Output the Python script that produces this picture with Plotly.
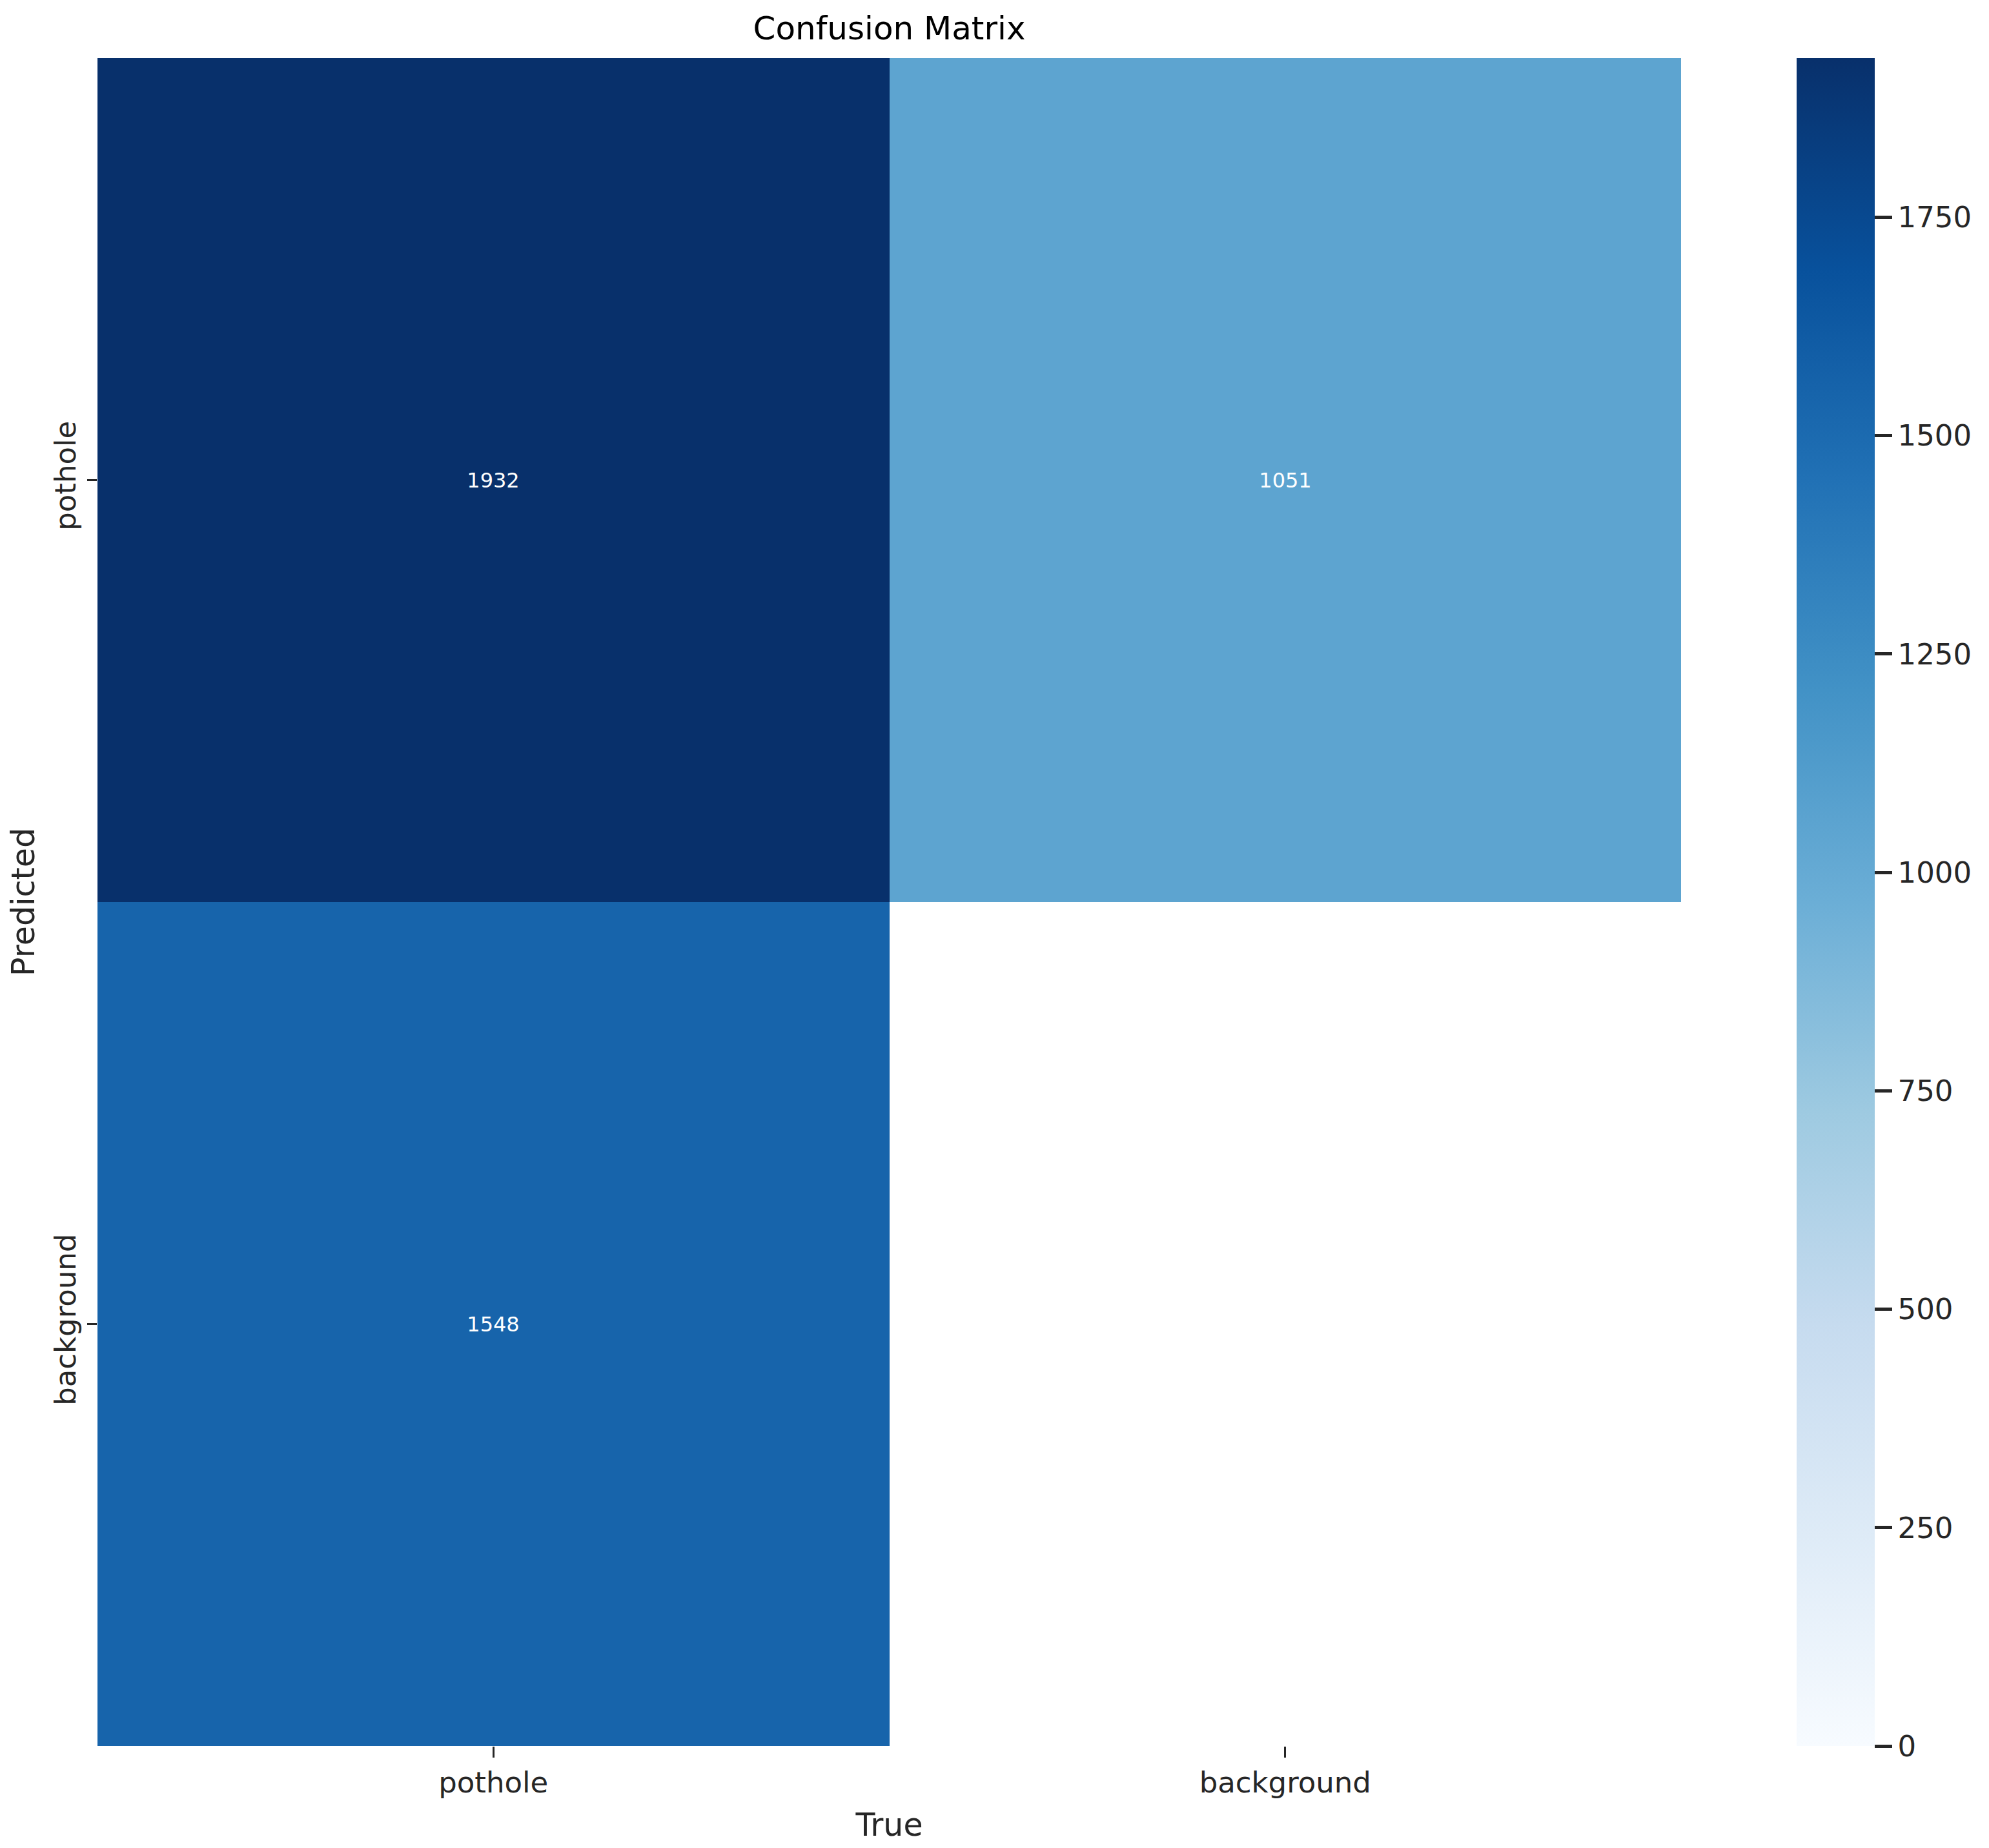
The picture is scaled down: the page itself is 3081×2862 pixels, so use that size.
import plotly.graph_objects as go

# Data
true_labels = ["pothole", "background"]
pred_labels = ["pothole", "background"]
counts = [
    [1932, 1051],
    [1548, None],
]
cell_text = [
    ["1932", "1051"],
    ["1548", ""],
]
cbar_ticks = [0, 250, 500, 750, 1000, 1250, 1500, 1750]

z_max = max(v for row in counts for v in row if v is not None)

# page body has an 8px margin in the browser
OFF = 8
W, H = 3081 - 2 * OFF, 2862 - OFF
ml, mr, mt, mb = 151 - OFF, 477 - OFF, 90 - OFF, 158
plot_w = W - ml - mr

FONT = "DejaVu Sans"
TXT = "#262626"

fig = go.Figure(
    go.Heatmap(
        z=counts,
        x=true_labels,
        y=pred_labels,
        text=cell_text,
        texttemplate="%{text}",
        textfont=dict(family=FONT, size=32, color="white"),
        colorscale="Blues",
        zauto=False,
        zmin=0,
        zmax=z_max,
        xgap=0,
        ygap=0,
        hoverongaps=False,
        colorbar=dict(
            thickness=121,
            thicknessmode="pixels",
            len=1,
            lenmode="fraction",
            x=(2783 - OFF - ml) / plot_w,
            xanchor="left",
            y=0.5,
            yanchor="middle",
            xpad=0,
            ypad=0,
            outlinewidth=0,
            ticks="outside",
            ticklen=27,
            tickwidth=5,
            tickcolor=TXT,
            tickvals=cbar_ticks,
            tickfont=dict(family=FONT, size=45, color=TXT),
        ),
    )
)

fig.update_layout(
    width=W,
    height=H,
    autosize=False,
    margin=dict(l=ml, r=mr, t=mt, b=mb, pad=0),
    paper_bgcolor="white",
    plot_bgcolor="white",
    font=dict(family=FONT, color=TXT),
    title=dict(
        text="Confusion Matrix",
        x=(ml + plot_w / 2) / W,
        xanchor="center",
        y=1 - (43 - OFF) / H,
        yanchor="middle",
        font=dict(family=FONT, size=50, color="black"),
    ),
    xaxis=dict(
        title=dict(text="True", font=dict(family=FONT, size=49, color=TXT), standoff=22),
        ticks="outside",
        ticklen=17,
        tickwidth=3,
        tickcolor=TXT,
        tickfont=dict(family=FONT, size=45, color=TXT),
        showgrid=False,
        zeroline=False,
        showline=False,
        automargin=False,
    ),
    yaxis=dict(
        title=dict(text="Predicted", font=dict(family=FONT, size=49, color=TXT), standoff=22),
        autorange="reversed",
        tickangle=-90,
        ticks="outside",
        ticklen=15,
        tickwidth=3,
        tickcolor=TXT,
        tickfont=dict(family=FONT, size=45, color=TXT),
        showgrid=False,
        zeroline=False,
        showline=False,
        automargin=False,
    ),
)

fig.write_html("out.html")
